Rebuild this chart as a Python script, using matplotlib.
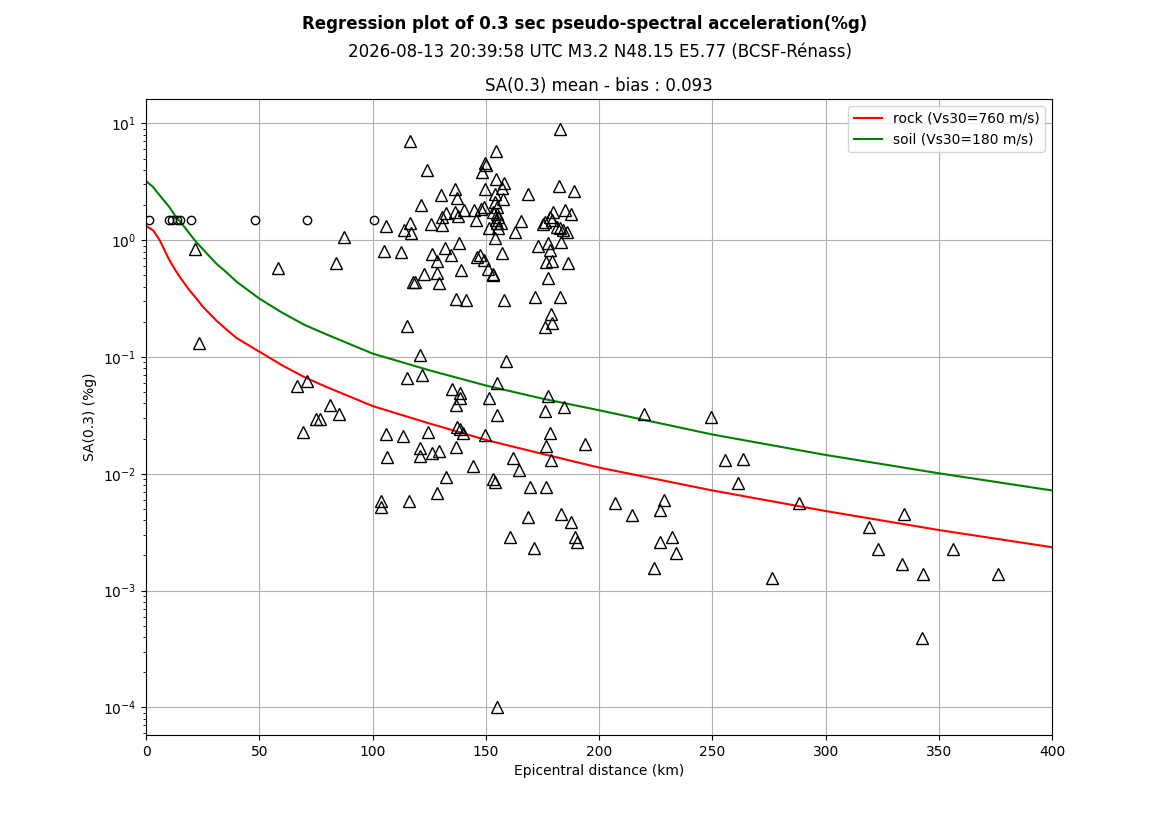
import matplotlib
matplotlib.use("Agg")
import matplotlib.pyplot as plt

# Model curves
curve_dist = [0, 3, 6, 10, 13, 15, 19, 22, 25, 31, 35, 40, 50, 60, 70, 80, 100, 125, 150, 175,
              200, 250, 300, 350, 400]
rock_vals = [1.32, 1.22, 1.0, 0.69, 0.55, 0.48, 0.375, 0.32, 0.27, 0.205, 0.175, 0.145, 0.111, 0.085,
             0.067, 0.055, 0.038, 0.027, 0.0195, 0.0148, 0.0113, 0.0072, 0.0048, 0.0033, 0.00235]
soil_vals = [3.2, 2.86, 2.42, 1.95, 1.6, 1.45, 1.15, 0.97, 0.84, 0.63, 0.54, 0.44, 0.316, 0.24,
             0.188, 0.155, 0.107, 0.077, 0.057, 0.044, 0.035, 0.0217, 0.0145, 0.0101, 0.0072]

# Stations shown as circles
circle_dist = [1.4, 10.2, 11.3, 13.8, 15.0, 19.9, 48.1, 71.2, 100.4]
circle_vals = [1.5, 1.5, 1.5, 1.5, 1.5, 1.5, 1.5, 1.5, 1.5]

# Observed SA(0.3) (triangles)
obs_dist = [
    21.7, 23.5, 58.4, 84.0, 87.5, 66.8, 71.2, 81.4, 85.3, 75.1, 76.9, 69.3,
    116.6, 182.8, 154.5, 149.7, 150.0, 148.5, 123.8, 154.5, 158.2, 157.0, 149.8, 168.8,
    136.4, 130.4, 137.4, 182.3, 188.7, 154.1, 154.1, 154.8, 153.3, 154.8, 155.5, 154.5,
    154.8, 157.4, 121.4, 185.0, 179.8, 187.6, 140.4, 144.8, 147.8, 149.3, 132.3, 130.8,
    136.4, 137.7, 145.7, 165.7, 175.1, 176.2, 178.4, 179.1, 181.3, 182.8, 184.2, 185.7,
    106.0, 116.6, 114.0, 117.0, 125.7, 130.8, 151.4, 155.5, 162.9, 154.1, 156.7,
    105.1, 112.6, 138.2, 126.3, 132.0, 128.6, 134.8, 146.0, 147.5, 149.2, 157.3, 173.2,
    177.6, 178.4, 183.2, 176.6, 179.1, 186.3, 122.9, 128.6, 129.4, 118.5, 118.0, 139.1,
    151.1, 153.1, 153.3, 177.6, 136.9, 141.3, 158.1, 171.9, 182.8, 178.8, 179.1, 175.9,
    115.4, 120.7, 158.9, 115.4, 122.0, 135.1, 138.6, 138.6, 136.7, 155.1, 151.6, 177.3,
    184.3, 176.3, 155.1, 105.7, 113.6, 124.6, 137.2, 138.6, 140.1, 149.7, 178.1, 176.7,
    193.9, 178.8, 121.0, 120.7, 126.0, 129.5, 137.0, 106.4, 162.2, 164.8, 144.5, 132.6,
    153.1, 154.1, 169.7, 176.7, 128.6, 103.5, 103.5, 116.2, 168.8, 183.2, 187.6, 160.8,
    189.4, 190.4, 171.4, 155.0,
    219.6, 249.6, 255.6, 263.6, 261.5, 288.3, 207.2, 214.6, 228.8, 227.1, 232.4, 227.1,
    234.1, 224.4, 276.5, 334.4, 319.3, 323.3, 333.9, 343.2, 356.4, 375.9, 342.5,
]
obs_vals = [
    0.838, 0.132, 0.575, 0.64, 1.07, 0.0566, 0.0624, 0.0389, 0.0328, 0.0297, 0.0293, 0.023,
    7.04, 8.97, 5.8, 4.59, 4.39, 3.85, 4.0, 3.33, 3.06, 2.8, 2.75, 2.48,
    2.72, 2.43, 2.28, 2.92, 2.64, 2.51, 2.13, 1.93, 1.75, 1.69, 1.58, 1.48,
    1.39, 2.27, 2.0, 1.81, 1.75, 1.67, 1.81, 1.81, 1.85, 1.93, 1.71, 1.58,
    1.75, 1.60, 1.48, 1.46, 1.37, 1.43, 1.58, 1.48, 1.30, 1.26, 1.22, 1.18,
    1.32, 1.39, 1.22, 1.15, 1.37, 1.36, 1.26, 1.26, 1.18, 1.05, 1.39,
    0.81, 0.79, 0.95, 0.76, 0.85, 0.67, 0.74, 0.72, 0.74, 0.68, 0.77, 0.89,
    0.94, 0.83, 0.97, 0.65, 0.67, 0.64, 0.51, 0.52, 0.43, 0.435, 0.435, 0.56,
    0.57, 0.51, 0.50, 0.475, 0.316, 0.306, 0.31, 0.327, 0.327, 0.233, 0.194, 0.181,
    0.185, 0.105, 0.093, 0.066, 0.070, 0.053, 0.049, 0.045, 0.039, 0.060, 0.0446, 0.0465,
    0.0374, 0.0344, 0.0318, 0.0218, 0.0211, 0.0228, 0.025, 0.024, 0.0225, 0.0214, 0.0222, 0.0173,
    0.0179, 0.0131, 0.0165, 0.0142, 0.0151, 0.0156, 0.0168, 0.0138, 0.0137, 0.0107, 0.0117, 0.0094,
    0.0091, 0.0085, 0.0077, 0.0077, 0.0069, 0.0059, 0.0052, 0.0059, 0.0043, 0.0045, 0.0039, 0.0029,
    0.0029, 0.0026, 0.0023, 0.0001,
    0.0324, 0.0308, 0.0131, 0.0134, 0.0084, 0.0056, 0.0056, 0.0044, 0.0060, 0.0049, 0.0029, 0.0026,
    0.0021, 0.00156, 0.00128, 0.0045, 0.00347, 0.00226, 0.0017, 0.0014, 0.00226, 0.0014, 0.000396,
]

fig = plt.figure(figsize=(11.69, 8.27), dpi=100)
ax = fig.add_axes([0.125, 0.111, 0.775, 0.769])

ax.plot(curve_dist, rock_vals, color="red", lw=1.5, label="rock (Vs30=760 m/s)")
ax.plot(curve_dist, soil_vals, color="green", lw=1.5, label="soil (Vs30=180 m/s)")
ax.plot(circle_dist, circle_vals, linestyle="none", marker="o", markersize=6,
        markerfacecolor="none", markeredgecolor="black", markeredgewidth=1.0)
ax.plot(obs_dist, obs_vals, linestyle="none", marker="^", markersize=8,
        markerfacecolor="none", markeredgecolor="black", markeredgewidth=1.0)

ax.set_yscale("log")
ax.set_xlim(0, 400)
ax.set_ylim(5.78e-5, 16.1)
ax.grid(True, which="major", color="#b0b0b0", lw=0.8)
ax.set_axisbelow(True)
ax.set_xlabel("Epicentral distance (km)")
ax.set_ylabel("SA(0.3) (%g)")
ax.set_title("SA(0.3) mean - bias : 0.093", fontsize=12, pad=6)
ax.legend(loc="upper right")

fig.text(0.5, 1 - 24 / 827, "Regression plot of 0.3 sec pseudo-spectral acceleration(%g)",
         ha="center", va="center", fontsize=12, fontweight="bold")
fig.text(599.5 / 1169, 1 - 52 / 827, "2026-08-13 20:39:58 UTC M3.2 N48.15 E5.77 (BCSF-Rénass)",
         ha="center", va="center", fontsize=12)

fig.savefig("out.png", dpi=100)
